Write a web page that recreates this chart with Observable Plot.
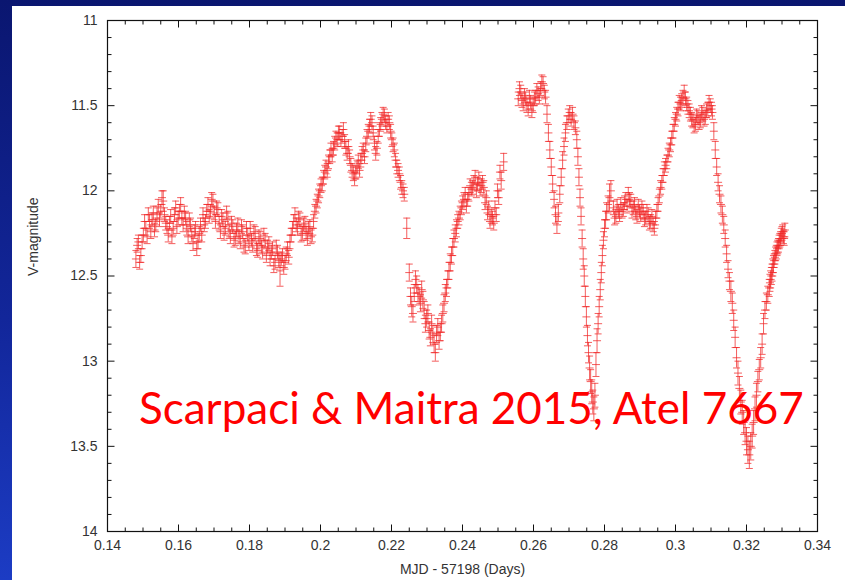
<!DOCTYPE html>
<html>
<head>
<meta charset="utf-8">
<script src="https://cdn.jsdelivr.net/npm/d3@7"></script>
<script src="https://cdn.jsdelivr.net/npm/@observablehq/plot@0.6"></script>
<style>
  html, body { margin: 0; padding: 0; }
  body {
    width: 845px; height: 580px; overflow: hidden; position: relative;
    background: linear-gradient(to bottom, #0a1670 0%, #12269a 55%, #1c3cc4 100%);
  }
  #panel { position: absolute; left: 12px; top: 6px; width: 833px; height: 574px; background: #fff; }
  #chart { position: absolute; left: 0; top: 0; }
  #note {
    position: absolute; left: 127px; top: 379px; white-space: nowrap;
    font-family: Lato, "Open Sans", sans-serif; font-size: 44px; line-height: 1;
    color: #ff0000;
  }
</style>
</head>
<body>
<div id="panel">
  <div id="chart"></div>
  <div id="note">Scarpaci &amp; Maitra 2015, Atel 7667</div>
</div>
<script>
// ---- data: time (MJD - 57198, days), V magnitude, error (hundredths of mag) ----
// observation set A
const time = [
  0.1480,0.1487,0.1494,0.1501,0.1508,0.1515,0.1522,0.1529,0.1536,0.1543,
  0.1550,0.1557,0.1564,0.1571,0.1578,0.1585,0.1592,0.1599,0.1606,0.1613,
  0.1620,0.1627,0.1634,0.1641,0.1648,0.1655,0.1662,0.1669,0.1676,0.1683,
  0.1690,0.1697,0.1704,0.1711,0.1718,0.1725,0.1732,0.1739,0.1746,0.1753,
  0.1760,0.1767,0.1774,0.1781,0.1788,0.1795,0.1802,0.1809,0.1816,0.1823,
  0.1830,0.1837,0.1844,0.1851,0.1858,0.1865,0.1872,0.1879,0.1886,0.1893,
  0.1900,0.1907,0.1914,0.1921,0.1928,0.1935,0.1942,0.1949,0.1956,0.1963,
  0.1970,0.1977,0.1984,0.1991,0.1998,0.2005,0.2012,0.2019,0.2026,0.2033,
  0.2040,0.2047,0.2054,0.2061,0.2068,0.2075,0.2082,0.2089,0.2096,0.2103,
  0.2110,0.2117,0.2124,0.2131,0.2138,0.2145,0.2152,0.2159,0.2166,0.2173,
  0.2180,0.2187,0.2194,0.2201,0.2208,0.2215,0.2222,0.2229,0.2236,0.2243,
  0.2250,0.2257,0.2264,0.2271,0.2278,0.2285,0.2292,0.2299,0.2306,0.2313,
  0.2320,0.2327,0.2334,0.2341,0.2348,0.2355,0.2362,0.2369,0.2376,0.2383,
  0.2390,0.2397,0.2404,0.2411,0.2418,0.2425,0.2432,0.2439,0.2446,0.2453,
  0.2460,0.2467,0.2474,0.2481,0.2488,0.2495,0.2502,0.2509,0.2516,
  0.2557,0.2564,0.2571,0.2578,0.2585,0.2592,0.2599,0.2606,0.2613,0.2620,
  0.2627,0.2634,0.2638,0.2642,0.2646,0.2650,0.2654,0.2658,0.2662,0.2666,
  0.2670,0.2674,0.2678,0.2682,0.2686,0.2690,0.2694,0.2698,0.2702,0.2706,
  0.2710,0.2714,0.2718,0.2722,0.2725,0.2728,0.2731,0.2734,0.2737,0.2740,
  0.2743,0.2746,0.2749,0.2752,0.2755,0.2758,0.2761,0.2764,0.2767,0.2770,
  0.2773,0.2776,0.2779,0.2782,0.2785,0.2788,0.2791,0.2794,0.2797,0.2800,
  0.2803,0.2806,0.2810,0.2814,0.2818,
  0.2825,0.2832,0.2839,0.2846,0.2853,0.2860,0.2867,0.2874,0.2881,0.2888,
  0.2895,0.2902,0.2909,0.2916,0.2923,0.2930,0.2937,0.2944,0.2951,0.2958,
  0.2965,0.2972,0.2979,0.2986,0.2993,0.3000,0.3007,0.3014,0.3021,0.3028,
  0.3035,0.3042,0.3049,0.3056,0.3063,0.3070,0.3077,0.3084,0.3091,0.3098,
  0.3104,0.3108,0.3112,0.3116,0.3120,0.3124,0.3128,0.3132,0.3136,0.3140,
  0.3144,0.3148,0.3152,0.3156,0.3160,0.3164,0.3168,0.3172,0.3176,0.3180,
  0.3184,0.3188,0.3192,0.3196,0.3200,0.3204,0.3208,0.3212,0.3216,0.3220,
  0.3224,0.3228,0.3232,0.3236,0.3240,0.3244,0.3248,0.3252,0.3256,0.3260,
  0.3264,0.3268,0.3272,0.3276,0.3280,0.3284,0.3288,0.3292,0.3296,0.3300,
  0.3304,0.3308
];
const vmag = [
  12.40,12.30,12.38,12.26,12.22,12.14,12.24,12.13,12.20,12.09,
  12.12,12.06,12.19,12.26,12.15,12.22,12.10,12.16,12.08,12.20,
  12.16,12.27,12.20,12.31,12.22,12.30,12.20,12.14,12.18,12.08,
  12.12,12.06,12.18,12.11,12.24,12.17,12.22,12.16,12.27,12.21,
  12.28,12.20,12.30,12.24,12.33,12.26,12.22,12.32,12.25,12.35,
  12.28,12.36,12.29,12.33,12.40,12.34,12.42,12.36,12.47,12.38,
  12.42,12.34,12.30,12.22,12.14,12.22,12.17,12.25,12.19,12.28,
  12.21,12.26,12.12,12.06,12.00,11.96,11.89,11.88,11.80,11.79,
  11.72,11.70,11.66,11.68,11.71,11.78,11.80,11.88,11.93,11.86,
  11.88,11.78,11.80,11.68,11.62,11.60,11.72,11.75,11.64,11.58,
  11.56,11.62,11.60,11.70,11.76,11.86,11.90,11.98,12.02,12.22,
  12.48,12.68,12.60,12.55,12.62,12.58,12.70,12.75,12.82,12.78,
  12.90,12.84,12.88,12.78,12.66,12.57,12.47,12.38,12.28,12.22,
  12.16,12.10,12.05,12.09,12.02,11.99,11.95,12.00,11.93,11.97,
  11.98,12.04,12.10,12.15,12.19,12.14,12.04,11.94,11.83,
  11.46,11.42,11.49,11.46,11.52,11.48,11.50,11.45,11.43,11.40,
  11.37,11.45,11.55,11.66,11.76,11.86,11.96,12.05,12.14,12.20,
  12.13,12.02,11.92,11.82,11.74,11.66,11.60,11.56,11.54,11.58,
  11.55,11.60,11.63,11.70,11.80,11.92,12.04,12.15,12.28,12.40,
  12.50,12.62,12.74,12.85,12.95,13.04,13.12,13.18,13.24,13.28,
  13.20,13.02,12.88,12.78,12.68,12.58,12.48,12.38,12.29,12.22,
  12.17,12.12,12.08,12.04,12.00,
  12.10,12.15,12.12,12.08,12.11,12.05,12.02,12.06,12.10,12.13,
  12.09,12.14,12.12,12.16,12.14,12.18,12.20,12.16,12.08,11.98,
  11.91,11.85,11.79,11.73,11.65,11.58,11.52,11.49,11.45,11.46,
  11.51,11.55,11.59,11.61,11.57,11.59,11.55,11.57,11.52,11.50,
  11.54,11.65,11.76,11.86,11.95,12.02,12.08,12.14,12.20,12.28,
  12.37,12.46,12.53,12.59,12.66,12.76,12.86,12.98,13.07,13.16,
  13.24,13.30,13.36,13.42,13.47,13.52,13.55,13.50,13.44,13.36,
  13.28,13.20,13.12,13.05,12.98,12.90,12.78,12.70,12.65,12.61,
  12.57,12.52,12.48,12.43,12.39,12.36,12.33,12.30,12.28,12.25,
  12.27,12.23
];
const verr = [
  5,4,4,4,4,4,4,4,4,4,
  4,6,4,4,4,4,4,4,4,4,
  4,4,4,4,4,4,4,4,4,4,
  4,4,4,4,4,4,4,4,4,4,
  4,4,4,4,4,4,4,4,4,4,
  4,4,4,4,4,4,4,4,9,4,
  4,4,4,4,4,4,4,4,4,4,
  4,4,4,4,4,4,4,4,4,4,
  4,4,4,4,4,4,4,4,4,4,
  4,4,4,4,4,4,4,4,4,4,
  4,4,4,4,4,4,4,4,4,6,
  5,6,5,5,5,5,5,5,5,5,
  5,5,5,5,5,5,5,5,5,5,
  4,4,4,4,4,4,4,4,4,4,
  4,4,4,4,4,4,4,5,5,
  4,4,4,4,4,4,4,4,4,4,
  4,4,5,5,5,5,5,5,5,5,
  5,5,5,5,5,5,4,4,4,4,
  4,4,4,5,5,5,5,5,5,6,
  6,6,6,6,6,7,7,7,7,7,
  7,7,7,6,6,6,6,6,5,5,
  5,5,5,8,6,
  4,4,4,4,4,4,4,4,4,4,
  4,4,4,4,4,4,4,4,4,4,
  4,4,4,4,4,4,4,4,4,4,
  4,4,4,4,4,4,4,4,4,4,
  4,5,5,5,5,5,5,5,5,5,
  5,5,5,6,6,6,6,6,7,7,
  7,7,7,7,8,8,8,8,7,7,
  7,7,6,6,6,6,6,5,5,5,
  5,5,5,5,4,4,4,4,4,4,
  4,4
];
// observation set B (interleaved exposures)
const timeB = [
  0.14835,0.14905,0.14975,0.15045,0.15115,0.15185,0.15255,0.15325,0.15395,0.15465,
  0.15535,0.15605,0.15675,0.15745,0.15815,0.15885,0.15955,0.16025,0.16095,0.16165,
  0.16235,0.16305,0.16375,0.16445,0.16515,0.16585,0.16655,0.16725,0.16795,0.16865,
  0.16935,0.17005,0.17075,0.17145,0.17215,0.17285,0.17355,0.17425,0.17495,0.17565,
  0.17635,0.17705,0.17775,0.17845,0.17915,0.17985,0.18055,0.18125,0.18195,0.18265,
  0.18335,0.18405,0.18475,0.18545,0.18615,0.18685,0.18755,0.18825,0.18895,0.18965,
  0.19035,0.19105,0.19175,0.19245,0.19315,0.19385,0.19455,0.19525,0.19595,0.19665,
  0.19735,0.19805,0.19875,0.19945,0.20015,0.20085,0.20155,0.20225,0.20295,0.20365,
  0.20435,0.20505,0.20575,0.20645,0.20715,0.20785,0.20855,0.20925,0.20995,0.21065,
  0.21135,0.21205,0.21275,0.21345,0.21415,0.21485,0.21555,0.21625,0.21695,0.21765,
  0.21835,0.21905,0.21975,0.22045,0.22115,0.22185,0.22255,0.22325,
  0.22535,0.22605,0.22675,0.22745,0.22815,0.22885,0.22955,0.23025,0.23095,0.23165,
  0.23235,0.23305,0.23375,0.23445,0.23515,0.23585,0.23655,0.23725,0.23795,
  0.23865,0.23935,0.24005,0.24075,0.24145,0.24215,0.24285,0.24355,0.24425,0.24495,
  0.24565,0.24635,0.24705,0.24775,0.24845,0.24915,0.24985,0.25055,
  0.25605,0.25675,0.25745,0.25815,0.25885,0.25955,0.26025,0.26095,0.26165,0.26235,0.26305,
  0.28285,0.28355,0.28425,0.28495,0.28565,0.28635,0.28705,0.28775,0.28845,0.28915,
  0.28985,0.29055,0.29125,0.29195,0.29265,0.29335,0.29405,0.29475,0.29545,0.29615,
  0.29685,0.29755,0.29825,0.29895,0.29965,0.30035,0.30105,0.30175,0.30245,0.30315,
  0.30385,0.30455,0.30525,0.30595,0.30665,0.30735,0.30805,0.30875,0.30945,0.31015,
  0.3266,0.3270,0.3274,0.3278,0.3282,0.3286,0.3290,0.3294,0.3298,0.3302,0.3306
];
const vmagB = [
  12.32,12.42,12.30,12.18,12.27,12.18,12.17,12.23,12.14,12.17,
  12.04,12.14,12.21,12.19,12.27,12.14,12.21,12.12,12.16,12.13,
  12.22,12.17,12.26,12.24,12.34,12.25,12.26,12.20,12.12,12.15,
  12.05,12.13,12.10,12.19,12.15,12.25,12.13,12.24,12.19,12.29,
  12.23,12.27,12.21,12.32,12.22,12.31,12.29,12.24,12.34,12.27,
  12.33,12.26,12.38,12.31,12.36,12.44,12.33,12.41,12.40,12.45,
  12.37,12.39,12.26,12.18,12.20,12.16,12.26,12.20,12.25,12.22,
  12.27,12.18,12.09,12.03,11.97,11.92,11.86,11.83,11.76,11.75,
  11.69,11.66,11.70,11.64,11.75,11.74,11.85,11.90,11.89,11.83,
  11.82,11.76,11.73,11.65,11.58,11.66,11.78,11.68,11.61,11.55,
  11.60,11.58,11.65,11.73,11.82,11.88,11.95,12.00,
  12.62,12.72,12.52,12.60,12.66,12.64,12.78,12.72,12.86,12.84,
  12.95,12.80,12.83,12.72,12.60,12.52,12.42,12.33,12.25,
  12.18,12.13,12.07,12.02,12.05,11.97,11.98,11.92,11.96,11.99,
  11.95,12.07,12.13,12.18,12.16,12.10,12.00,11.89,
  11.40,11.47,11.44,11.50,11.45,11.53,11.46,11.41,11.45,11.36,11.42,
  12.16,12.09,12.14,12.12,12.07,12.09,12.05,12.12,12.08,12.15,
  12.12,12.10,12.17,12.12,12.19,12.15,12.22,12.12,12.03,11.95,
  11.87,11.83,11.76,11.69,11.61,11.55,11.48,11.47,11.42,11.49,
  11.53,11.58,11.62,11.56,11.60,11.54,11.58,11.53,11.48,11.52,
  12.54,12.50,12.45,12.41,12.37,12.34,12.32,12.29,12.26,12.24,12.28
];
const verrB = [
  4,4,4,4,4,4,4,4,4,4,
  4,4,4,4,4,4,4,4,4,4,
  4,4,4,4,4,4,4,4,4,4,
  4,4,4,4,4,4,4,4,4,4,
  4,4,4,4,4,4,4,4,4,4,
  4,4,4,4,4,4,4,4,4,4,
  4,4,4,4,4,4,4,4,4,4,
  4,4,4,4,4,4,4,4,4,4,
  4,4,4,4,4,4,4,4,4,4,
  4,4,4,4,4,4,4,4,4,4,
  4,4,4,4,4,4,4,4,
  5,5,5,5,5,5,5,5,5,5,
  5,5,5,5,5,5,5,5,5,
  4,4,4,4,4,4,4,4,4,4,
  4,4,4,4,4,4,4,4,
  4,4,4,4,4,4,4,4,4,4,4,
  4,4,4,4,4,4,4,4,4,4,
  4,4,4,4,4,4,4,4,4,4,
  4,4,4,4,4,4,4,4,4,4,
  4,4,4,4,4,4,4,4,4,4,
  5,5,5,4,4,4,4,4,4,4,4
];

// axis ticks
const xTicks = [0.14,0.16,0.18,0.2,0.22,0.24,0.26,0.28,0.3,0.32,0.34];
const xMinor = [0.145,0.15,0.155,0.165,0.17,0.175,0.185,0.19,0.195,0.205,0.21,0.215,
  0.225,0.23,0.235,0.245,0.25,0.255,0.265,0.27,0.275,0.285,0.29,0.295,
  0.305,0.31,0.315,0.325,0.33,0.335];
const yTicks = [11,11.5,12,12.5,13,13.5,14];
const yMinor = [11.1,11.2,11.3,11.4,11.6,11.7,11.8,11.9,12.1,12.2,12.3,12.4,
  12.6,12.7,12.8,12.9,13.1,13.2,13.3,13.4,13.6,13.7,13.8,13.9];

const xTitle = "MJD - 57198 (Days)";
const yTitle = "V-magnitude";

// ---- build ----
const toPts = (ts, ms, es) => ts.map((t, i) => ({t, m: ms[i], lo: ms[i] - es[i] / 100, hi: ms[i] + es[i] / 100}));
const pts = toPts(time, vmag, verr).concat(toPts(timeB, vmagB, verrB));

const seg = (dx, dy) => ({draw(ctx) { ctx.moveTo(0, 0); ctx.lineTo(dx, dy); }});
const hbar = (w) => ({draw(ctx) { ctx.moveTo(-w, 0); ctx.lineTo(w, 0); }});

const RED = "#f02828";
const pStyle = {stroke: RED, fill: "none", strokeWidth: 1, strokeOpacity: 0.75};
const tickStyle = {stroke: "#111", fill: "none", strokeWidth: 1};
const MAJ = 7, MIN = 4;
const xMin = 0.14, xMax = 0.34, yTop = 11, yBot = 14;

const chart = Plot.plot({
  width: 833,
  height: 574,
  marginLeft: 95,
  marginRight: 28,
  marginTop: 14,
  marginBottom: 49,
  style: {fontFamily: "'Liberation Sans', Arial, sans-serif", fontSize: "14px", color: "#333", background: "#fff"},
  x: {domain: [xMin, xMax]},
  y: {domain: [yTop, yBot], reverse: true},
  marks: [
    // error bars with caps and centre marks
    Plot.ruleX(pts, {x: "t", y1: "lo", y2: "hi", ...pStyle}),
    Plot.dot(pts, {x: "t", y: "lo", symbol: hbar(3.5), ...pStyle}),
    Plot.dot(pts, {x: "t", y: "hi", symbol: hbar(3.5), ...pStyle}),
    Plot.dot(pts, {x: "t", y: "m", symbol: hbar(4), ...pStyle}),
    // inward ticks on all four sides
    Plot.dot(xTicks, {x: d => d, y: () => yBot, symbol: seg(0, -MAJ), ...tickStyle}),
    Plot.dot(xTicks, {x: d => d, y: () => yTop, symbol: seg(0, MAJ), ...tickStyle}),
    Plot.dot(xMinor, {x: d => d, y: () => yBot, symbol: seg(0, -MIN), ...tickStyle}),
    Plot.dot(xMinor, {x: d => d, y: () => yTop, symbol: seg(0, MIN), ...tickStyle}),
    Plot.dot(yTicks, {y: d => d, x: () => xMin, symbol: seg(MAJ, 0), ...tickStyle}),
    Plot.dot(yTicks, {y: d => d, x: () => xMax, symbol: seg(-MAJ, 0), ...tickStyle}),
    Plot.dot(yMinor, {y: d => d, x: () => xMin, symbol: seg(MIN, 0), ...tickStyle}),
    Plot.dot(yMinor, {y: d => d, x: () => xMax, symbol: seg(-MIN, 0), ...tickStyle}),
    Plot.frame({stroke: "#111", strokeWidth: 1.2}),
    // axes
    Plot.axisX({ticks: xTicks, tickSize: 0, tickPadding: 9, tickFormat: d3.format("~g"), label: null, fill: "#333"}),
    Plot.axisY({ticks: yTicks, tickSize: 0, tickPadding: 10, tickFormat: d3.format("~g"), label: null, fill: "#333"}),
    Plot.text([xTitle], {frameAnchor: "bottom", dy: 42, text: d => d, fill: "#333", fontSize: 14}),
    Plot.text([yTitle], {frameAnchor: "left", dx: -74, rotate: -90, text: d => d, fill: "#333", fontSize: 14})
  ]
});
document.getElementById("chart").appendChild(chart);
</script>
</body>
</html>
